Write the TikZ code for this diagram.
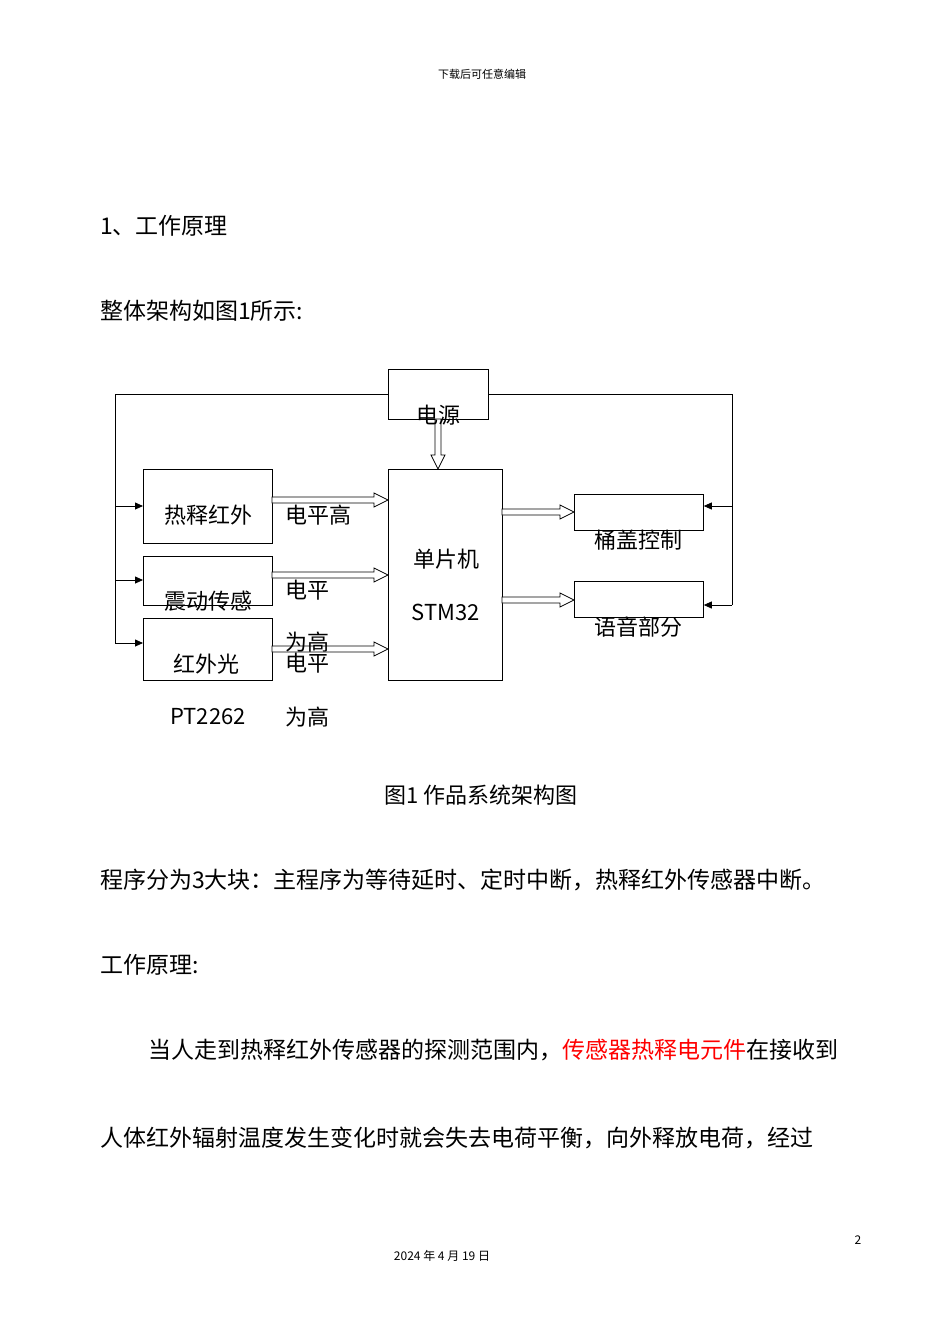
\documentclass[tikz,border=0pt]{standalone}
\usepackage{fontspec}
\setmainfont{Noto Sans CJK SC}[BoldFont={Noto Sans CJK SC}]
\usetikzlibrary{arrows.meta}
\newcommand{\harr}[3]{\draw[fill=white,line width=0.8pt] (#1,#3-3)--(#2-14,#3-3)--(#2-14,#3-7)--(#2,#3)--(#2-14,#3+7)--(#2-14,#3+3)--(#1,#3+3)--cycle;}
\begin{document}
\begin{tikzpicture}[x=1pt,y=-1pt,
  blk/.style={draw,line width=0.8pt,anchor=north west,inner sep=0pt},
  lbl/.style={font=\fontsize{22}{24}\selectfont,inner sep=0pt},
  body/.style={font=\fontsize{23}{25}\selectfont,inner sep=0pt,anchor=west},
  ln/.style={line width=0.8pt},
  ar/.style={ln,-{Triangle[length=8pt,width=7pt]}}]
\useasboundingbox[fill=white] (0,0) rectangle (950,1344);
\node[font=\fontsize{11}{13}\selectfont] (hdr) at (482,74) {下载后可任意编辑};
\node[body] (t1) at (100,226) {1、工作原理};
\node[body] (t2) at (100,311) {整体架构如图1所示:};
% boxes
\node[blk,minimum width=100pt,minimum height=50pt] (pw) at (388,369) {};
\node[blk,minimum width=129pt,minimum height=74pt] (b1) at (143,469) {};
\node[blk,minimum width=129pt,minimum height=49pt] (b2) at (143,556) {};
\node[blk,minimum width=129pt,minimum height=62pt] (b3) at (143,618) {};
\node[blk,minimum width=114pt,minimum height=211pt] (mcu) at (388,469) {};
\node[blk,minimum width=129pt,minimum height=36pt] (r1) at (574,494) {};
\node[blk,minimum width=129pt,minimum height=36pt] (r2) at (574,581) {};
% power lines
\coordinate (lt) at (115,394); \coordinate (rt) at (732,394);
\draw[ln] (pw.west |- lt) -- (lt) -- (115,643);
\draw[ar] (115,506) -- (b1.west |- 0,506);
\draw[ar] (115,580) -- (b2.west |- 0,580);
\draw[ar] (115,643) -- (b3.west |- 0,643);
\draw[ln] (pw.east |- rt) -- (rt) -- (732,605);
\draw[ar] (732,506) -- (r1.east |- 0,506);
\draw[ar] (732,605) -- (r2.east |- 0,605);
% double arrows
\draw[fill=white,line width=0.8pt] (435,419)--(435,455)--(431,455)--(438,469)--(445,455)--(441,455)--(441,419)--cycle;
\harr{272}{388}{500}
\harr{272}{388}{575}
\harr{272}{388}{649}
\harr{502}{574}{512}
\harr{502}{574}{600}
% labels
\node[lbl] (l0) at (438,415) {电源};
\node[lbl] (l1) at (208,515) {热释红外};
\node[lbl] (l2) at (208,601) {震动传感};
\node[lbl] (l3) at (206,664) {红外光};
\node[lbl] (l4) at (446,559) {单片机};
\node[lbl] (l5) at (446,612) {STM32};
\node[lbl] (l6) at (638,540) {桶盖控制};
\node[lbl] (l7) at (638,627) {语音部分};
\node[lbl] (l8) at (318,515) {电平高};
\node[lbl] (l9) at (307,590) {电平};
\node[lbl] (l10) at (307,642) {为高};
\node[lbl] (l11) at (307,663) {电平};
\node[lbl] (l12) at (208,717) {PT2262};
\node[lbl] (l13) at (307,717) {为高};
\node[lbl] (cap) at (481,795) {图1 作品系统架构图};
\node[body] (t3) at (100,880) {程序分为3大块：主程序为等待延时、定时中断，热释红外传感器中断。};
\node[body] (t4) at (100,965) {工作原理:};
\node[body] (t5) at (148,1050) {当人走到热释红外传感器的探测范围内，\textcolor{red}{传感器热释电元件}在接收到};
\node[body] (t6) at (100,1138) {人体红外辐射温度发生变化时就会失去电荷平衡，向外释放电荷，经过};
\node[font=\fontsize{12}{14}\selectfont] (pg) at (858,1240) {2};
\node[font=\fontsize{12}{14}\selectfont] (dt) at (442,1256) {2024 年 4 月 19 日};
\end{tikzpicture}
\end{document}
